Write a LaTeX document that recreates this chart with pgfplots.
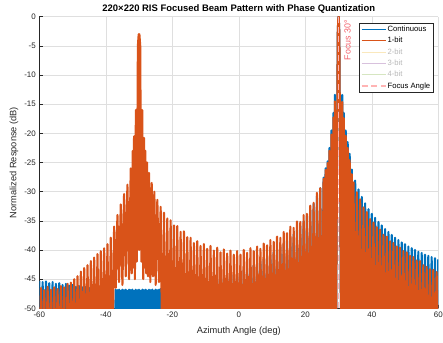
\documentclass[border=0pt]{standalone}
\usepackage{fontspec}
\setmainfont{Liberation Sans}
\usepackage{pgfplots}
\pgfplotsset{compat=1.18}
\definecolor{mblue}{RGB}{0,114,189}
\definecolor{morange}{RGB}{217,83,25}
\definecolor{c2}{RGB}{250,232,188}
\definecolor{c3}{RGB}{216,193,221}
\definecolor{c4}{RGB}{214,230,193}
\definecolor{focusline}{RGB}{255,180,180}
\definecolor{focustext}{RGB}{242,95,105}
\definecolor{axiscol}{RGB}{38,38,38}
\definecolor{gridcol}{RGB}{223,223,223}
\definecolor{lgrey}{RGB}{185,185,185}
\begin{document}
\begin{tikzpicture}
\begin{axis}[
  at={(0,0)}, anchor=south west,
  scale only axis, width=399bp, height=291.6bp,
  xmin=-60, xmax=60, ymin=-50, ymax=0,
  xtick={-60,-40,-20,0,20,40,60},
  ytick={-50,-45,-40,-35,-30,-25,-20,-15,-10,-5,0},
  grid=major, major grid style={draw=gridcol, line width=0.5bp},
  axis lines*=left, axis line style={draw=axiscol, line width=0.6bp},
  tick align=inside, major tick length=3.5bp,
  tick style={draw=axiscol, line width=0.5bp},
  ticklabel style={font=\fontsize{8}{9}\selectfont, text=axiscol},
  /pgf/number format/assume math mode=true,
  title={220×220 RIS Focused Beam Pattern with Phase Quantization},
  every axis title/.style={at={(axis description cs:0.5,1)}, anchor=base, yshift=5bp, font=\bfseries\fontsize{9.5}{11}\selectfont},
  xlabel={Azimuth Angle (deg)},
  every axis x label/.style={at={(axis description cs:0.5,0)}, anchor=base, yshift=-24.9bp, font=\fontsize{9.3}{11}\selectfont, text=axiscol},
  ylabel={Normalized Response (dB)},
  every axis y label/.style={at={(axis description cs:0,0.5)}, xshift=-23bp, rotate=90, anchor=base, font=\fontsize{9.3}{11}\selectfont, text=axiscol},
  legend style={at={(1,1)}, anchor=north east, xshift=-5bp, yshift=-6bp, draw=axiscol, line width=0.5bp, fill=white,
    font=\fontsize{7.7}{9}\selectfont, inner xsep=1.5bp, inner ysep=1.5bp, row sep=1.2bp,
    nodes={inner sep=1.3bp, text height=5.8bp, text depth=1.7bp}, cells={anchor=west}},
  legend image code/.code={\draw[#1, line width=1.2bp] (0bp,0bp) -- (24bp,0bp);},
]
% Continuous
\addplot[mblue, line width=2.1bp, line join=round] coordinates {
(-60,-45.3) (-59.5,-60) (-59,-45.5) (-58.5,-60) (-58,-45.4) (-57.5,-60) (-57,-45.7) (-56.5,-60) (-56,-45.5) (-55.5,-60)
(-55,-45.8) (-54.5,-60) (-54,-45.7) (-53.5,-60) (-53,-46.0) (-52.5,-60) (-52,-45.8) (-51.5,-60) (-51,-46.1) (-50.5,-60)
(-50,-46.0) (-49.5,-60) (-49,-46.3) (-48.5,-60) (-48,-46.2) (-47.5,-60) (-47,-46.4) (-46.5,-60) (-46,-46.3) (-45.5,-60)
(-45,-46.5) (-44.5,-60) (-44,-46.4) (-43.5,-60) (-43,-46.6) (-42.5,-60) (-42,-46.5) (-41.5,-60) (-41,-46.7) (-40.5,-60)
(-40,-46.6) (-39.5,-60) (-39,-46.8) (-38.5,-60) (-38,-46.7) (-37.5,-60)
(-37,-46.8) (-36.75,-51) (-36.5,-46.9) (-36.25,-51) (-36,-46.8) (-35.75,-51) (-35.5,-47.0) (-35.25,-51) (-35,-46.8) (-34.75,-51)
(-34.5,-46.9) (-34.25,-51) (-34,-46.8) (-33.75,-51) (-33.5,-47.0) (-33.25,-51) (-33,-46.8) (-32.75,-51) (-32.5,-46.9) (-32.25,-51)
(-32,-46.8) (-31.75,-51) (-31.5,-47.0) (-31.25,-51) (-31,-46.8) (-30.75,-51) (-30.5,-46.9) (-30.25,-51) (-30,-46.8) (-29.75,-51)
(-29.5,-47.0) (-29.25,-51) (-29,-46.8) (-28.75,-51) (-28.5,-46.9) (-28.25,-51) (-28,-46.8) (-27.75,-51) (-27.5,-47.0) (-27.25,-51)
(-27,-46.8) (-26.75,-51) (-26.5,-46.9) (-26.25,-51) (-26,-46.8) (-25.75,-51) (-25.5,-47.0) (-25.25,-51) (-25,-46.8) (-24.75,-51)
(-24.5,-46.9) (-24.25,-51) (-24,-46.8) (-23.75,-60)
(-23.5,-46.7) (-23,-60) (-22.5,-46.7) (-22,-60) (-21.5,-46.6) (-21,-60) (-20.5,-46.6) (-20,-60) (-19.5,-46.5) (-19,-60)
(-18.5,-46.5) (-18,-60) (-17.5,-46.4) (-17,-60) (-16.5,-46.3) (-16,-60) (-15.5,-46.3) (-15,-60) (-14.5,-46.2) (-14,-60)
(-13.5,-46.0) (-13,-60) (-12.5,-45.9) (-12,-60) (-11.5,-45.8) (-11,-60) (-10.5,-45.7) (-10,-60) (-9.5,-45.6) (-9,-60)
(-8.5,-45.4) (-8,-60) (-7.5,-45.3) (-7,-60) (-6.5,-45.1) (-6,-60) (-5.5,-45.0) (-5,-60) (-4.5,-44.8) (-4,-60)
(-3.5,-44.6) (-3,-60) (-2.5,-44.4) (-2,-60) (-1.5,-44.2) (-1,-60) (-0.5,-44.0) (0,-60) (0.5,-43.7) (1,-60)
(1.5,-43.4) (2,-60) (2.5,-43.2) (3,-60) (3.5,-42.9) (4,-60) (4.5,-42.6) (5,-60) (5.5,-42.3) (6,-60)
(6.5,-42.0) (7,-60) (7.5,-41.6) (8,-60) (8.5,-41.3) (9,-60) (9.5,-40.9) (10,-60) (10.5,-40.4) (11,-60)
(11.5,-40.0) (12,-60) (12.5,-39.5) (13,-60) (13.5,-39.0) (14,-60) (14.5,-38.4) (15,-60) (15.5,-37.9) (16,-60)
(16.5,-37.3) (17,-60) (17.5,-36.6) (18,-60) (18.5,-35.9) (19,-60) (19.5,-35.1) (20,-60) (20.5,-34.2) (21,-60)
(21.5,-33.2) (22,-60) (22.5,-32.1) (23,-60) (23.5,-30.8) (24,-60) (24.5,-29.4) (25,-60) (25.5,-27.6)
(25.8,-60) (26.1,-26.0) (26.45,-60) (26.7,-24.8) (27.0,-60) (27.25,-22.5) (27.55,-60) (27.85,-19.5) (28.15,-60) (28.45,-16.5)
(28.7,-60) (28.9,-13.4) (29.2,-60) (29.75,-3.0) (29.95,0) (30.05,0) (30.25,-3.0) (30.8,-60) (31.1,-13.4) (31.3,-60)
(31.55,-16.5) (31.85,-60) (32.15,-19.5) (32.45,-60) (32.75,-21.5) (33.05,-60) (33.35,-23.5) (33.7,-60) (34.0,-26.2) (34.5,-60)
(35,-28.1) (35.5,-60) (36,-29.6) (36.5,-60) (37,-30.9) (37.5,-60) (38,-32.0) (38.5,-60) (39,-33.0) (39.5,-60)
(40,-33.8) (40.5,-60) (41,-34.5) (41.5,-60) (42,-35.2) (42.5,-60) (43,-35.8) (43.5,-60) (44,-36.4) (44.5,-60)
(45,-36.9) (45.5,-60) (46,-37.4) (46.5,-60) (47,-37.9) (47.5,-60) (48,-38.3) (48.5,-60) (49,-38.7) (49.5,-60)
(50,-39.0) (50.5,-60) (51,-39.4) (51.5,-60) (52,-39.7) (52.5,-60) (53,-40.0) (53.5,-60) (54,-40.3) (54.5,-60)
(55,-40.5) (55.5,-60) (56,-40.8) (56.5,-60) (57,-41.0) (57.5,-60) (58,-41.2) (58.5,-60) (59,-41.4) (59.5,-60) (60,-41.6)
};
\addlegendentry{Continuous}
% 1-bit
\addplot[morange, line width=2.1bp, line join=round] coordinates {
(-60,-60) (-59.5,-46.5) (-59,-60) (-58.5,-46.9) (-58,-60) (-57.5,-46.3) (-57,-60) (-56.5,-46.8) (-56,-60) (-55.5,-46.4)
(-55,-60) (-54.5,-46.7) (-54,-60) (-53.5,-46.2) (-53,-60) (-52.5,-46.4) (-52,-60) (-51.5,-45.8) (-51,-60) (-50.5,-45.6)
(-50,-60) (-49.5,-45.0) (-49,-60) (-48.5,-44.5) (-48,-60) (-47.5,-43.7) (-47,-60) (-46.5,-43.1) (-46,-60) (-45.5,-42.6)
(-45,-60) (-44.5,-41.9) (-44,-60) (-43.5,-41.3) (-43,-60) (-42.5,-40.7) (-42,-60) (-41.5,-40.2) (-41,-60) (-40.5,-39.7)
(-40,-60) (-39.5,-39.0) (-39,-60) (-38.5,-37.9) (-38,-60) (-37.5,-36.0)
(-37,-46.5) (-36.5,-34.0) (-36,-45.5) (-35.5,-32.2) (-35,-46) (-34.5,-30.4) (-34,-44.5) (-33.5,-28.8) (-33,-45) (-32.5,-26.0)
(-32.2,-44) (-31.9,-23.0) (-31.7,-43) (-31.5,-20.5) (-31.25,-45) (-30.95,-16) (-30.7,-42) (-30.35,-5) (-30.1,-3.0) (-30.0,-40)
(-29.9,-3.0) (-29.65,-5) (-29.3,-42) (-29.05,-16) (-28.75,-45)
(-28.5,-20.8) (-28.3,-43) (-28.1,-23.0) (-27.85,-44) (-27.6,-25.0) (-27.3,-44.5) (-27.0,-26.8) (-26.6,-45.5) (-26.2,-28.5) (-25.8,-44.5)
(-25.4,-30.0) (-25.0,-46) (-24.5,-31.4) (-24.0,-45.5) (-23.5,-32.6)
(-23,-60) (-22.5,-33.6) (-22,-60) (-21.5,-34.6) (-21,-60) (-20.5,-34.9) (-20,-60) (-19.5,-35.8) (-19,-60) (-18.5,-35.9)
(-18,-60) (-17.5,-36.9) (-17,-60) (-16.5,-36.8) (-16,-60) (-15.5,-37.8) (-15,-60) (-14.5,-37.9) (-14,-60) (-13.5,-38.8)
(-13,-60) (-12.5,-38.5) (-12,-60) (-11.5,-39.3) (-11,-60) (-10.5,-39.0) (-10,-60) (-9.5,-39.8) (-9,-60) (-8.5,-39.3)
(-8,-60) (-7.5,-40.1) (-7,-60) (-6.5,-39.6) (-6,-60) (-5.5,-40.4) (-5,-60) (-4.5,-39.9) (-4,-60) (-3.5,-40.6)
(-3,-60) (-2.5,-40.1) (-2,-60) (-1.5,-40.8) (-1,-60) (-0.5,-40.2) (0,-60) (0.5,-40.8) (1,-60) (1.5,-40.0)
(2,-60) (2.5,-40.5) (3,-60) (3.5,-39.7) (4,-60) (4.5,-40.2) (5,-60) (5.5,-39.4) (6,-60) (6.5,-39.8)
(7,-60) (7.5,-38.9) (8,-60) (8.5,-39.2) (9,-60) (9.5,-38.3) (10,-60) (10.5,-38.6) (11,-60) (11.5,-37.7)
(12,-60) (12.5,-37.9) (13,-60) (13.5,-36.9) (14,-60) (14.5,-37.1) (15,-60) (15.5,-36.0) (16,-60) (16.5,-36.2)
(17,-60) (17.5,-35.1) (18,-60) (18.5,-35.2) (19,-60) (19.5,-34.0) (20,-60) (20.5,-33.8) (21,-60) (21.5,-32.4)
(22,-60) (22.5,-31.9) (23,-60) (23.5,-30.2) (24,-60) (24.5,-29.4) (25,-60) (25.5,-27.8)
(25.8,-60) (26.1,-26.3) (26.45,-60) (26.7,-25.1) (27.0,-60) (27.25,-23.0) (27.55,-60) (27.85,-20.2) (28.15,-60) (28.45,-17.3)
(28.7,-60) (28.9,-14.5) (29.2,-60) (29.75,-3.0) (29.95,0) (30.05,0) (30.25,-3.0) (30.8,-60) (31.1,-14.6) (31.3,-60)
(31.55,-17.4) (31.85,-60) (32.15,-20.4) (32.45,-60) (32.75,-22.5) (33.05,-60) (33.35,-24.6) (33.7,-60) (34.0,-27.0) (34.25,-60)
(34.5,-28.4) (35,-60) (35.5,-30.1) (36,-60) (36.5,-31.3) (37,-60) (37.5,-32.7) (38,-60) (38.5,-33.5) (39,-60)
(39.5,-34.7) (40,-60) (40.5,-35.3) (41,-60) (41.5,-36.1) (42,-60) (42.5,-36.5) (43,-60) (43.5,-37.4) (44,-60)
(44.5,-37.7) (45,-60) (45.5,-38.5) (46,-60) (46.5,-38.8) (47,-60) (47.5,-39.4) (48,-60) (48.5,-39.6) (49,-60)
(49.5,-40.2) (50,-60) (50.5,-40.4) (51,-60) (51.5,-41.0) (52,-60) (52.5,-41.2) (53,-60) (53.5,-41.8) (54,-60)
(54.5,-41.9) (55,-60) (55.5,-42.6) (56,-60) (56.5,-42.9) (57,-60) (57.5,-43.3) (58,-60) (58.5,-43.4) (59,-60)
(59.5,-43.8) (60,-60)
};
\addlegendentry{1-bit}
\addlegendimage{c2, line width=1.2bp}
\addlegendentry{\textcolor{lgrey}{2-bit}}
\addlegendimage{c3, line width=1.2bp}
\addlegendentry{\textcolor{lgrey}{3-bit}}
\addlegendimage{c4, line width=1.2bp}
\addlegendentry{\textcolor{lgrey}{4-bit}}
\addplot[focusline, line width=1.1bp, dash pattern=on 6bp off 3.5bp] coordinates {(30,-50) (30,0)};
\addlegendentry{Focus Angle}
\node[font=\fontsize{8.9}{10}\selectfont, text=focustext, inner sep=0pt, anchor=north east, xshift=5.7bp, yshift=-3.3bp, rotate=90] at (axis cs:30,0) {Focus 30°};
\end{axis}
\pgfresetboundingbox
\path[use as bounding box] (-39.3bp,-34.7bp) rectangle (403.7bp,308.3bp);
\end{tikzpicture}
\end{document}
